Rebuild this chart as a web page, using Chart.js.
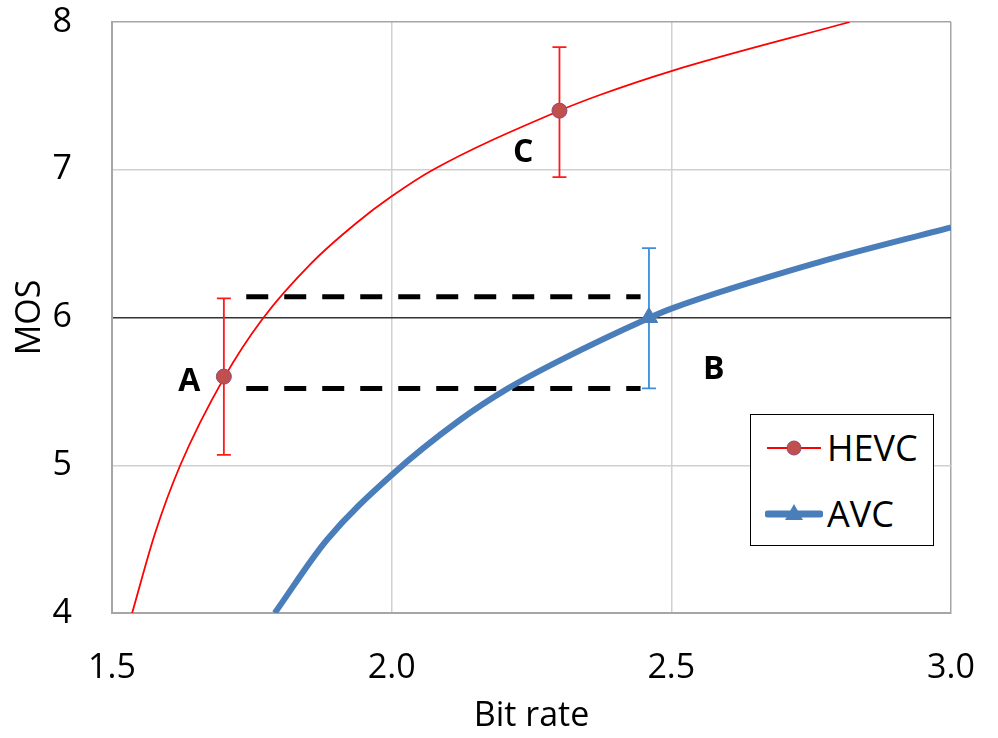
<!DOCTYPE html>
<html>
<head>
<meta charset="utf-8">
<script src="https://cdn.jsdelivr.net/npm/chart.js@4.4.1/dist/chart.umd.min.js"></script>
<style>
  body { margin: 0; background: #fff; }
  #wrap { position: relative; width: 998px; height: 738px; }
  #legend {
    position: absolute; left: 750px; top: 414px; width: 182px; height: 130px;
    border: 1.5px solid #000; background: #fff;
    font-family: 'Open Sans', sans-serif; font-size: 36px; color: #000;
  }
  #legend .row { position: absolute; left: 14px; height: 50px; display: flex; align-items: center; }
  #legend .row span { margin-left: 4px; line-height: 1; }
</style>
</head>
<body>
<div id="wrap">
  <canvas id="chart" width="998" height="738"></canvas>
  <div id="legend">
    <div class="row" style="top: 8px;">
      <svg width="58" height="20"><line x1="2" y1="10" x2="56" y2="10" stroke="#ff0000" stroke-width="1.8"/><circle cx="29" cy="10" r="7" fill="#c0504d" stroke="#8b4a7a" stroke-width="1"/></svg>
      <span>HEVC</span>
    </div>
    <div class="row" style="top: 74px;">
      <svg width="58" height="24"><line x1="3" y1="12" x2="55" y2="12" stroke="#4a7ebb" stroke-width="7" stroke-linecap="round"/><polygon points="29,2 38,18 20,18" fill="#4a7ebb"/></svg>
      <span>AVC</span>
    </div>
  </div>
</div>
<script>
// curves
const hevcCurveX = [1.536, 1.577, 1.622, 1.70, 1.769, 1.857, 1.937, 2.0, 2.074, 2.30, 2.372, 2.50, 2.819];
const hevcCurveY = [4.0, 4.54, 5.0, 5.59, 5.99, 6.37, 6.64, 6.82, 7.0, 7.40, 7.506, 7.668, 8.0];
const avcCurveX = [1.791, 1.884, 2.0, 2.122, 2.208, 2.301, 2.459, 2.5, 2.76, 3.0];
const avcCurveY = [4.0, 4.494, 4.934, 5.306, 5.52, 5.71, 5.995, 6.06, 6.37, 6.61];

// measured points with error bars
const hevcPointX = [1.70, 2.30];
const hevcPointY = [5.60, 7.40];
const hevcErrLow = [5.07, 6.95];
const hevcErrHigh = [6.13, 7.83];
const avcPointX = [2.46];
const avcPointY = [6.0];
const avcErrLow = [5.52];
const avcErrHigh = [6.47];

// dashed guides
const dashX = [1.74, 2.445];
const dashUpperY = 6.14;
const dashLowerY = 5.52;

// point labels
const labelText = ['A', 'B', 'C'];
const labelX = [1.638, 2.576, 2.235];
const labelY = [5.563, 5.645, 7.113];

const xTicks = [1.5, 2.0, 2.5, 3.0];
const yTicks = [4, 5, 6, 7, 8];

const toPts = (xs, ys) => xs.map((x, i) => ({ x: x, y: ys[i] }));

Chart.defaults.font.family = "'Open Sans', sans-serif";
Chart.defaults.color = '#000';

const errorBars = {
    id: 'errorBars',
    beforeDatasetsDraw(chart) {
        const ctx = chart.ctx;
        const xs = chart.scales.x, ys = chart.scales.y;
        function bar(x, lo, hi, color) {
            const px = xs.getPixelForValue(x);
            const p1 = ys.getPixelForValue(lo), p2 = ys.getPixelForValue(hi);
            ctx.save();
            ctx.strokeStyle = color;
            ctx.lineWidth = 1.8;
            ctx.beginPath();
            ctx.moveTo(px, p1); ctx.lineTo(px, p2);
            ctx.moveTo(px - 7, p1); ctx.lineTo(px + 7, p1);
            ctx.moveTo(px - 7, p2); ctx.lineTo(px + 7, p2);
            ctx.stroke();
            ctx.restore();
        }
        hevcPointX.forEach((x, i) => bar(x, hevcErrLow[i], hevcErrHigh[i], '#ff1a1a'));
        avcPointX.forEach((x, i) => bar(x, avcErrLow[i], avcErrHigh[i], '#3b8ede'));
    },
    afterDatasetsDraw(chart) {
        const ctx = chart.ctx;
        ctx.save();
        ctx.font = "bold 32px 'Open Sans', sans-serif";
        ctx.fillStyle = '#000';
        ctx.textAlign = 'center';
        ctx.textBaseline = 'middle';
        labelText.forEach((t, i) => {
            ctx.fillText(t, chart.scales.x.getPixelForValue(labelX[i]), chart.scales.y.getPixelForValue(labelY[i]));
        });
        ctx.restore();
    }
};

new Chart(document.getElementById('chart'), {
    type: 'scatter',
    data: {
        datasets: [
            {
                label: 'HEVC pts', data: toPts(hevcPointX, hevcPointY), order: 0,
                pointStyle: 'circle', pointRadius: 7.5, backgroundColor: '#c0504d',
                borderColor: '#8b4a7a', borderWidth: 1
            },
            {
                label: 'AVC pts', data: toPts(avcPointX, avcPointY), order: 0,
                pointStyle: 'triangle', pointRadius: 10, backgroundColor: '#4a7ebb',
                borderColor: '#4a7ebb', borderWidth: 1
            },
            {
                label: 'HEVC', data: toPts(hevcCurveX, hevcCurveY), order: 1,
                showLine: true, pointRadius: 0, borderColor: '#ff0000', borderWidth: 1.8,
                cubicInterpolationMode: 'monotone'
            },
            {
                label: 'AVC', data: toPts(avcCurveX, avcCurveY), order: 1,
                showLine: true, pointRadius: 0, borderColor: '#4a7ebb', borderWidth: 6,
                cubicInterpolationMode: 'monotone'
            },
            {
                label: 'upper', data: toPts(dashX, [dashUpperY, dashUpperY]), order: 2,
                showLine: true, pointRadius: 0, borderColor: '#000', borderWidth: 5,
                borderDash: [22, 16]
            },
            {
                label: 'lower', data: toPts(dashX, [dashLowerY, dashLowerY]), order: 2,
                showLine: true, pointRadius: 0, borderColor: '#000', borderWidth: 5,
                borderDash: [22, 16]
            }
        ]
    },
    options: {
        responsive: false,
        animation: false,
        layout: { padding: { left: 0, top: 22, right: 47, bottom: 0 } },
        plugins: { legend: { display: false }, tooltip: { enabled: false } },
        scales: {
            x: {
                type: 'linear', min: 1.5, max: 3.0,
                afterBuildTicks: s => { s.ticks = xTicks.map(v => ({ value: v })); },
                afterFit: s => { s.height = 125; s.paddingLeft = 0; s.paddingRight = 0; },
                ticks: { font: { size: 34 }, padding: 35, callback: v => v.toFixed(1) },
                grid: {
                    drawTicks: false, lineWidth: 1.5,
                    color: c => (c.tick && c.tick.value === 3.0) ? '#a6a6a6' : '#d0d0d0'
                },
                border: { color: '#a6a6a6', width: 2 },
                title: { display: true, text: 'Bit rate', font: { size: 34 }, padding: { top: 0, bottom: 1 } }
            },
            y: {
                type: 'linear', min: 4, max: 8,
                afterBuildTicks: s => { s.ticks = yTicks.map(v => ({ value: v })); },
                afterFit: s => { s.width = 112; s.paddingTop = 0; s.paddingBottom = 0; },
                ticks: { font: { size: 34 }, padding: 40 },
                grid: {
                    drawTicks: false, lineWidth: 1.5,
                    color: c => {
                        if (!c.tick) return '#d0d0d0';
                        if (c.tick.value === 6) return '#333333';
                        if (c.tick.value === 8) return '#a6a6a6';
                        return '#d0d0d0';
                    }
                },
                border: { color: '#a6a6a6', width: 2 },
                title: { display: true, text: 'MOS', font: { size: 34 }, padding: { top: 10, bottom: 0 } }
            }
        }
    },
    plugins: [errorBars]
});
</script>
</body>
</html>
